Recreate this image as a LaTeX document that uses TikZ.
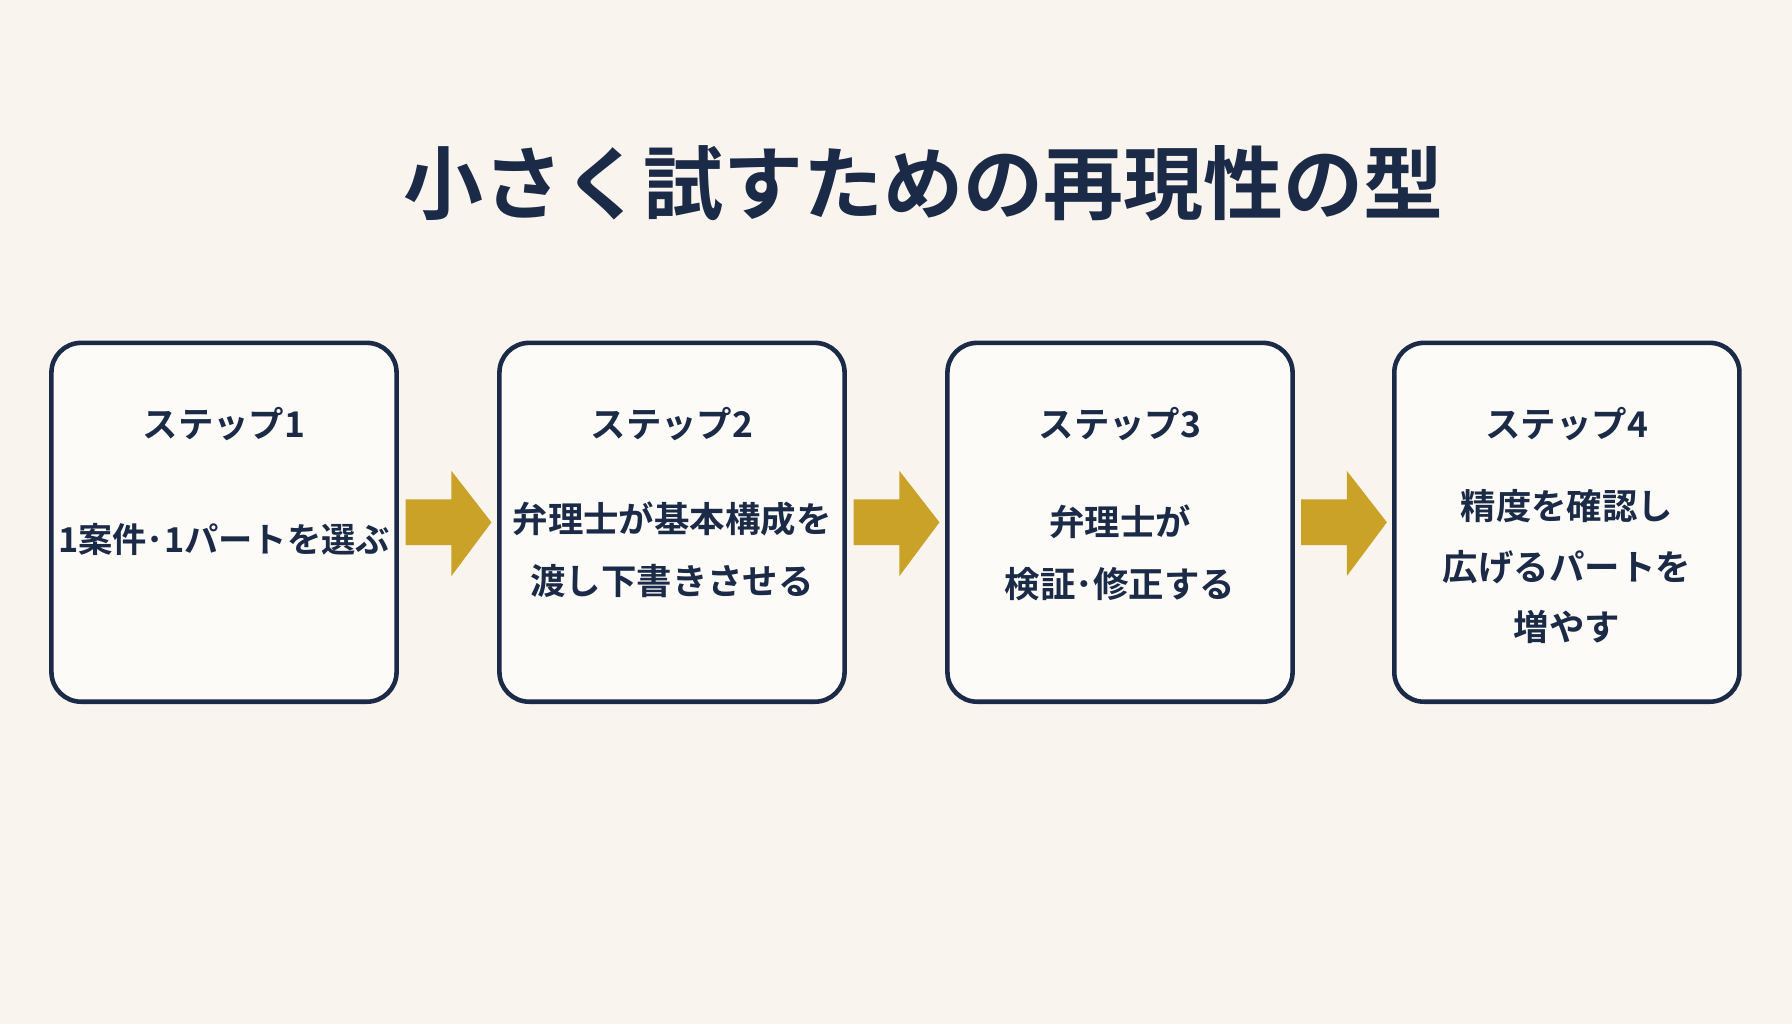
\documentclass[tikz,border=0pt]{standalone}
\usepackage{fontspec}
\newfontfamily\cjkb{Noto Sans CJK JP Bold}
\definecolor{bg}{HTML}{F9F5EE}
\definecolor{navy}{HTML}{1B2A47}
\definecolor{gold}{HTML}{C9A227}
\begin{document}
\begin{tikzpicture}[x=0.5pt,y=-0.5pt,
 box/.style={draw=navy,line width=2pt,rounded corners=13pt,fill=white!60!bg,minimum width=151pt,minimum height=157pt,inner sep=0pt},
 txt/.style={font=\cjkb\fontsize{15.5}{27}\selectfont,text=navy,align=center},
 arr/.style={fill=gold}]
\fill[bg] (0,0) rectangle (1568,896);
\useasboundingbox (0,0) rectangle (1568,896);
\node[font=\cjkb\fontsize{35}{40}\selectfont,text=navy] (title) at (808,160) {小さく試すための再現性の型};
\foreach \i/\x in {1/196,2/588,3/980,4/1371}{
 \node[box] (b\i) at (\x,457) {};
 \node[txt] (s\i) at (\x,371) {ステップ\i};
}
\node[txt,font=\cjkb\fontsize{15}{27}\selectfont] (t1) at (196,472) {1案件･1パートを選ぶ};
\node[txt] (t2) at (588,481) {弁理士が基本構成を\\渡し下書きさせる};
\node[txt] (t3) at (980,484) {弁理士が\\検証･修正する};
\node[txt,font=\cjkb\fontsize{15.5}{26.5}\selectfont] (t4) at (1371,496) {精度を確認し\\広げるパートを\\増やす};
\foreach \a/\b in {1/2,2/3,3/4}{
 \path (b\a.east) -- (b\b.west) coordinate[pos=0.5] (m\a);
 \fill[arr] ([shift={(-37,-20)}]m\a) -- ++(40,0) -- ++(0,-25) -- ++(35,45) -- ++(-35,47) -- ++(0,-27) -- ++(-40,0) -- cycle;
}
\end{tikzpicture}
\end{document}
